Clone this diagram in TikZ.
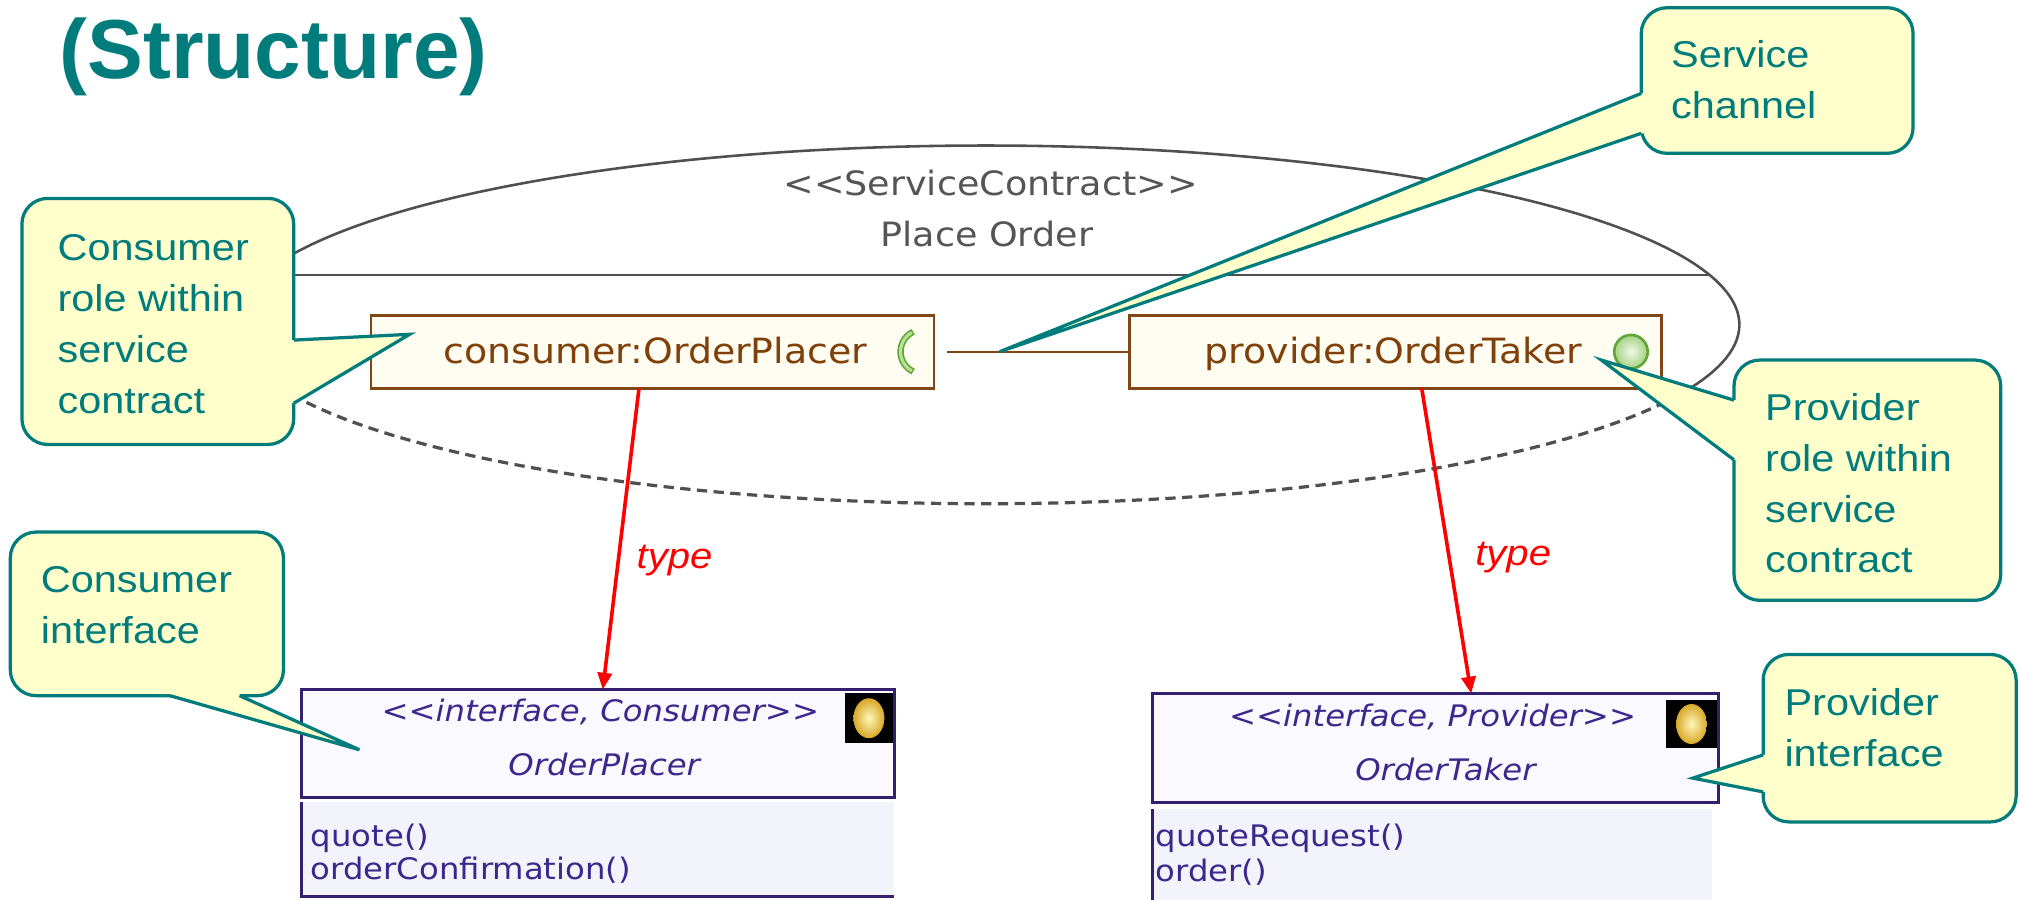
\documentclass[tikz,border=0pt]{standalone}
\usepackage{fontspec}
\setmainfont{Liberation Sans}
\newfontfamily\callfont[FakeStretch=1.11]{Liberation Sans}
\newfontfamily\umlfont[FakeStretch=1.09]{DejaVu Sans}
\usetikzlibrary{calc,arrows.meta}
\definecolor{teal0}{RGB}{0,124,124}
\definecolor{callfill}{RGB}{255,255,204}
\definecolor{partline}{RGB}{128,70,20}
\definecolor{parttxt}{RGB}{128,64,10}
\definecolor{partfill}{RGB}{255,253,242}
\definecolor{ifline}{RGB}{52,32,110}
\definecolor{iftext}{RGB}{60,40,140}
\definecolor{iffill}{RGB}{249,249,255}
\definecolor{opsfill}{RGB}{243,243,252}
\definecolor{ellgray}{RGB}{80,80,80}
\definecolor{sctxt}{RGB}{85,85,85}
\definecolor{greenline}{RGB}{95,165,55}
\definecolor{greenlight}{RGB}{185,225,150}
\definecolor{greenin}{RGB}{240,248,232}
\definecolor{greenout}{RGB}{165,210,130}
\definecolor{goldin}{RGB}{255,247,185}
\definecolor{goldout}{RGB}{215,168,40}
\begin{document}
\begin{tikzpicture}[x=1pt,y=-1pt,
  callbox/.style={draw=teal0,fill=callfill,line width=2.5pt,rounded corners=20pt,inner sep=0pt,outer sep=0pt},
  callline/.style={draw=teal0,line width=2.5pt},
  calltext/.style={font=\callfont\fontsize{29}{39.5}\selectfont,text=teal0,align=left,anchor=north west,inner sep=0pt},
  partbox/.style={draw=partline,fill=partfill,line width=2.2pt,inner sep=0pt,outer sep=0pt},
  parttext/.style={font=\umlfont\fontsize{27}{30}\selectfont,text=parttxt,anchor=base west,inner sep=0pt},
  ifacebox/.style={draw=ifline,fill=iffill,line width=2.2pt,inner sep=0pt,outer sep=0pt},
  stereo/.style={font=\umlfont\fontsize{23}{25}\selectfont\itshape,text=iftext,anchor=base,inner sep=0pt},
  opstext/.style={font=\umlfont\fontsize{23}{25}\selectfont,text=iftext,anchor=base west,inner sep=0pt},
  sctext/.style={font=\umlfont\fontsize{26}{30}\selectfont,text=sctxt,anchor=base,inner sep=0pt},
  typearrow/.style={draw=red,line width=2.8pt,-{Triangle[length=13pt,width=11pt]}},
  typetext/.style={font=\callfont\fontsize{28}{30}\selectfont\itshape,text=red,anchor=base west,inner sep=0pt},
  iconbox/.style={fill=black,inner sep=0pt,outer sep=0pt}
]
\useasboundingbox (0,0) rectangle (1568,698);
\fill[white] (0,0) rectangle (1568,698);

% title
\node[anchor=base west,inner sep=0pt,font=\fontsize{65}{72}\selectfont\bfseries,text=teal0] (title) at (46,60.8) {(Structure)};

% service contract ellipse
\coordinate (contract) at (765,252);
\draw[ellgray,line width=2pt] (contract) ++(22:585 and 139) arc[start angle=22,end angle=-200,x radius=585,y radius=139];
\draw[ellgray,line width=2.5pt,dash pattern=on 8pt off 5pt] (contract) ++(160:585 and 139) arc[start angle=160,end angle=22,x radius=585,y radius=139];
\draw[ellgray,line width=2pt] ($(contract)+(-562,-38.5)$) -- ($(contract)+(562,-38.5)$);
\node[sctext] (sc1) at (769,151.4) {<<ServiceContract>>};
\node[sctext] (sc2) at (766,191.5) {Place Order};

% parts
\node[partbox,minimum width=437pt,minimum height=56.5pt] (cpart) at (506.5,273.25) {};
\node[parttext] (cpartt) at (344,282) {consumer:OrderPlacer};
\node[partbox,minimum width=413pt,minimum height=56.5pt] (ppart) at (1083.5,273.25) {};
\node[parttext] (ppartt) at (935,282) {provider:OrderTaker};
\draw[partline,line width=2pt,shorten <=10pt] (cpart.east) -- (ppart.west);

% required interface symbol
\coordinate (req) at (716,273);
\draw[greenline,line width=5pt] (req) ++(115:17) arc[start angle=115,end angle=245,radius=17];
\draw[greenlight,line width=2.4pt] (req) ++(119:17) arc[start angle=119,end angle=241,radius=17];
% provided interface symbol
\node[circle,minimum size=26pt,inner sep=0pt,draw=greenline,line width=2pt,shade,inner color=greenin,outer color=greenout] (prov) at (1266,273) {};

% consumer interface
\node[ifacebox,minimum width=460.4pt,minimum height=83.8pt] (ciface) at (464.1,577.1) {};
\node[fill=opsfill,inner sep=0pt,outer sep=0pt,minimum width=460pt,minimum height=73.6pt] (cops) at (464,659.2) {};
\draw[ifline,line width=2.2pt] (cops.north west) -- (cops.south west) -- (cops.south east);
\node[iconbox,minimum width=37pt,minimum height=39pt] (cicon) at (674.5,557.5) {};
\shade[inner color=goldin,outer color=goldout] (cicon.center) ellipse[x radius=12,y radius=15.5];
\node[stereo] (cst) at (466,560) {<<interface, Consumer>>};
\node[stereo] (cname) at (469,602) {OrderPlacer};
\node[opstext] (cop1) at (241,657) {quote()};
\node[opstext] (cop2) at (241,683) {orderConfirmation()};

% provider interface
\node[ifacebox,minimum width=439.2pt,minimum height=84.9pt] (piface) at (1114.2,580.75) {};
\node[fill=opsfill,inner sep=0pt,outer sep=0pt,minimum width=434.4pt,minimum height=72.4pt] (pops) at (1111.8,663.8) {};
\draw[ifline,line width=2.2pt] (pops.north west) -- (pops.south west);
\node[iconbox,minimum width=40pt,minimum height=38pt] (picon) at (1313,562) {};
\shade[inner color=goldin,outer color=goldout] (picon.center) ellipse[x radius=12,y radius=15.5];
\node[stereo] (pst) at (1112,564) {<<interface, Provider>>};
\node[stereo] (pname) at (1122,605.6) {OrderTaker};
\node[opstext] (pop1) at (897,657) {quoteRequest()};
\node[opstext] (pop2) at (897,684.5) {order()};

% type arrows
\draw[typearrow] ($(cpart.south west)+(208,0)$) -- ($(ciface.north west)+(234,0)$);
\node[typetext] (ctype) at (494,441) {type};
\draw[typearrow] ($(ppart.south west)+(226.6,0)$) -- ($(piface.north west)+(247.4,0)$);
\node[typetext] (ptype) at (1145,438.7) {type};

% callout: consumer role
\node[callbox,minimum width=211pt,minimum height=191pt] (c1) at (122.5,249.5) {};
\coordinate (c1a) at ($(c1.north east)+(0,110)$);
\coordinate (c1b) at ($(c1.north east)+(0,159)$);
\coordinate (c1tip) at (318,259.5);
\fill[callfill] ($(c1a)+(-5,0)$) -- (c1a) -- (c1tip) -- (c1b) -- ($(c1b)+(-5,0)$) -- cycle;
\draw[callline] (c1a) -- (c1tip) -- (c1b);
\node[calltext] (c1t) at (44.5,174.35) {\strut Consumer\\role within\\service\\contract};

% callout: consumer interface
\node[callbox,minimum width=212pt,minimum height=127pt] (c2) at (114,476.5) {};
\coordinate (c2a) at ($(c2.south west)+(124,0)$);
\coordinate (c2b) at ($(c2.south west)+(178,0)$);
\coordinate (c2tip) at (279,582);
\fill[callfill] ($(c2a)+(0,-5)$) -- (c2a) -- (c2tip) -- (c2b) -- ($(c2b)+(0,-5)$) -- cycle;
\draw[callline] (c2a) -- (c2tip) -- (c2b);
\node[calltext] (c2t) at (31.5,432.35) {\strut Consumer\\interface};

% callout: service channel
\node[callbox,minimum width=211pt,minimum height=113pt] (c3) at (1379.5,62.5) {};
\coordinate (c3a) at ($(c3.north west)+(0,66.5)$);
\coordinate (c3b) at ($(c3.north west)+(0,97.5)$);
\coordinate (c3tip) at (776,273);
\fill[callfill] ($(c3a)+(5,0)$) -- (c3a) -- (c3tip) -- (c3b) -- ($(c3b)+(5,0)$) -- cycle;
\draw[callline] (c3a) -- (c3tip) -- (c3b);
\node[calltext] (c3t) at (1297,24.35) {\strut Service\\channel};

% callout: provider role
\node[callbox,minimum width=207pt,minimum height=186.5pt] (c4) at (1449.5,372.75) {};
\coordinate (c4a) at ($(c4.north west)+(0,31.1)$);
\coordinate (c4b) at ($(c4.north west)+(0,77.5)$);
\coordinate (c4tip) at (1243,279.5);
\fill[callfill] ($(c4a)+(5,0)$) -- (c4a) -- (c4tip) -- (c4b) -- ($(c4b)+(5,0)$) -- cycle;
\draw[callline] (c4a) -- (c4tip) -- (c4b);
\node[calltext] (c4t) at (1370,298.35) {\strut Provider\\role within\\service\\contract};

% callout: provider interface
\node[callbox,minimum width=196.4pt,minimum height=130pt] (c5) at (1466.8,573) {};
\coordinate (c5a) at ($(c5.north west)+(0,78)$);
\coordinate (c5b) at ($(c5.north west)+(0,106.7)$);
\coordinate (c5tip) at (1314,604);
\fill[callfill] ($(c5a)+(5,0)$) -- (c5a) -- (c5tip) -- (c5b) -- ($(c5b)+(5,0)$) -- cycle;
\draw[callline] (c5a) -- (c5tip) -- (c5b);
\node[calltext] (c5t) at (1385,527.35) {\strut Provider\\interface};
\end{tikzpicture}
\end{document}
